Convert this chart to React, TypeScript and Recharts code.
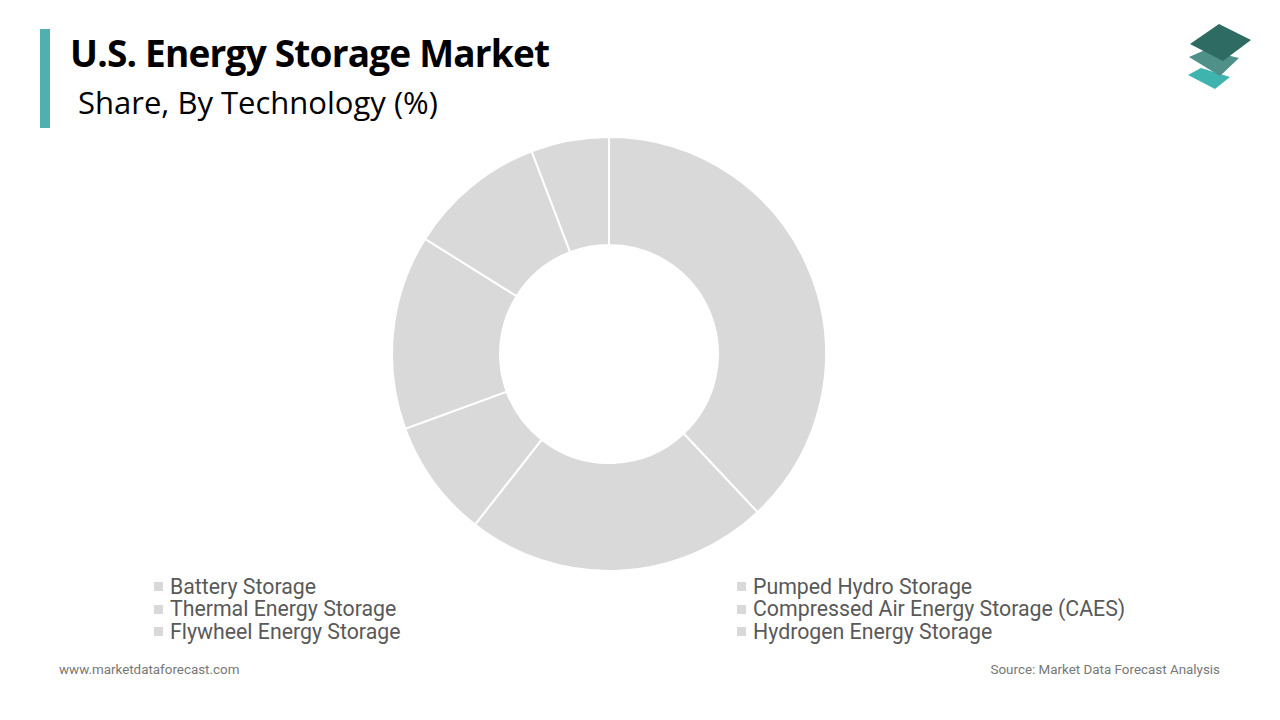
import { PieChart, Pie, Cell, Legend } from "recharts";

// share by technology (clockwise from 12 o'clock)
const TECHNOLOGIES = [
  "Battery Storage",
  "Pumped Hydro Storage",
  "Thermal Energy Storage",
  "Compressed Air Energy Storage (CAES)",
  "Flywheel Energy Storage",
  "Hydrogen Energy Storage",
];
const SHARES = [38.0, 22.6, 8.8, 14.5, 10.3, 5.8];

const SLICE_COLOR = "#d9d9d9";

const data = TECHNOLOGIES.map((name, i) => ({ name, value: SHARES[i] }));

// legend keeps the data order (recharts would sort it by name)
const LegendGrid = () => (
  <div
    style={{
      display: "grid",
      gridTemplateColumns: "583px 520px",
      paddingLeft: 154,
      fontFamily: "Roboto, sans-serif",
      fontSize: 21.3,
      color: "#595959",
      lineHeight: "22.5px",
    }}
  >
    {TECHNOLOGIES.map((name) => (
      <div key={name} style={{ display: "flex", alignItems: "center", whiteSpace: "nowrap" }}>
        <span
          style={{
            width: 9,
            height: 9,
            background: SLICE_COLOR,
            display: "inline-block",
            marginRight: 7,
          }}
        />
        <span>{name}</span>
      </div>
    ))}
  </div>
);

const App = () => {
  return (
    <div
      style={{
        position: "absolute",
        left: 0,
        top: 0,
        width: 1280,
        height: 720,
        background: "#fff",
        overflow: "hidden",
      }}
    >
      {/* accent bar + titles */}
      <div style={{ position: "absolute", left: 40, top: 29, width: 10, height: 99, background: "#4fb0ae" }} />
      <div
        style={{
          position: "absolute",
          left: 70,
          top: 27,
          fontFamily: "'Open Sans', sans-serif",
          fontWeight: 700,
          fontSize: 37,
          letterSpacing: -0.8,
          color: "#000",
          whiteSpace: "nowrap",
        }}
      >
        U.S. Energy Storage Market
      </div>
      <div
        style={{
          position: "absolute",
          left: 78,
          top: 81,
          fontFamily: "'Open Sans', sans-serif",
          fontSize: 31,
          color: "#000",
          whiteSpace: "nowrap",
        }}
      >
        Share, By Technology (%)
      </div>

      {/* logo */}
      <svg style={{ position: "absolute", left: 0, top: 0 }} width={1280} height={100}>
        <polygon points="1188,75 1201,68 1230,77 1215,89" fill="#3fb3ad" />
        <polygon points="1189,57 1205,50 1239,58 1220,76" fill="#4f9189" />
        <polygon points="1190,44 1219,24 1251,40 1223,61" fill="#2e6b62" />
      </svg>

      <PieChart
        width={1280}
        height={720}
        margin={{ top: 0, right: 0, bottom: 0, left: 0 }}
        style={{ position: "absolute", left: 0, top: 0 }}
      >
        <Pie
          data={data}
          dataKey="value"
          nameKey="name"
          cx={609}
          cy={354}
          innerRadius={109}
          outerRadius={217}
          startAngle={90}
          endAngle={-270}
          stroke="#ffffff"
          strokeWidth={2}
          isAnimationActive={false}
        >
          {data.map((entry) => (
            <Cell key={entry.name} fill={SLICE_COLOR} />
          ))}
        </Pie>
        <Legend
          content={<LegendGrid />}
          wrapperStyle={{ position: "absolute", left: 0, top: 575.5, width: 1280 }}
        />
      </PieChart>

      {/* footer */}
      <div
        style={{
          position: "absolute",
          left: 59,
          top: 662,
          fontFamily: "Roboto, sans-serif",
          fontSize: 13.4,
          color: "#777",
        }}
      >
        www.marketdataforecast.com
      </div>
      <div
        style={{
          position: "absolute",
          right: 60,
          top: 662,
          fontFamily: "Roboto, sans-serif",
          fontSize: 13.4,
          color: "#777",
        }}
      >
        Source: Market Data Forecast Analysis
      </div>
    </div>
  );
};

export default App;
